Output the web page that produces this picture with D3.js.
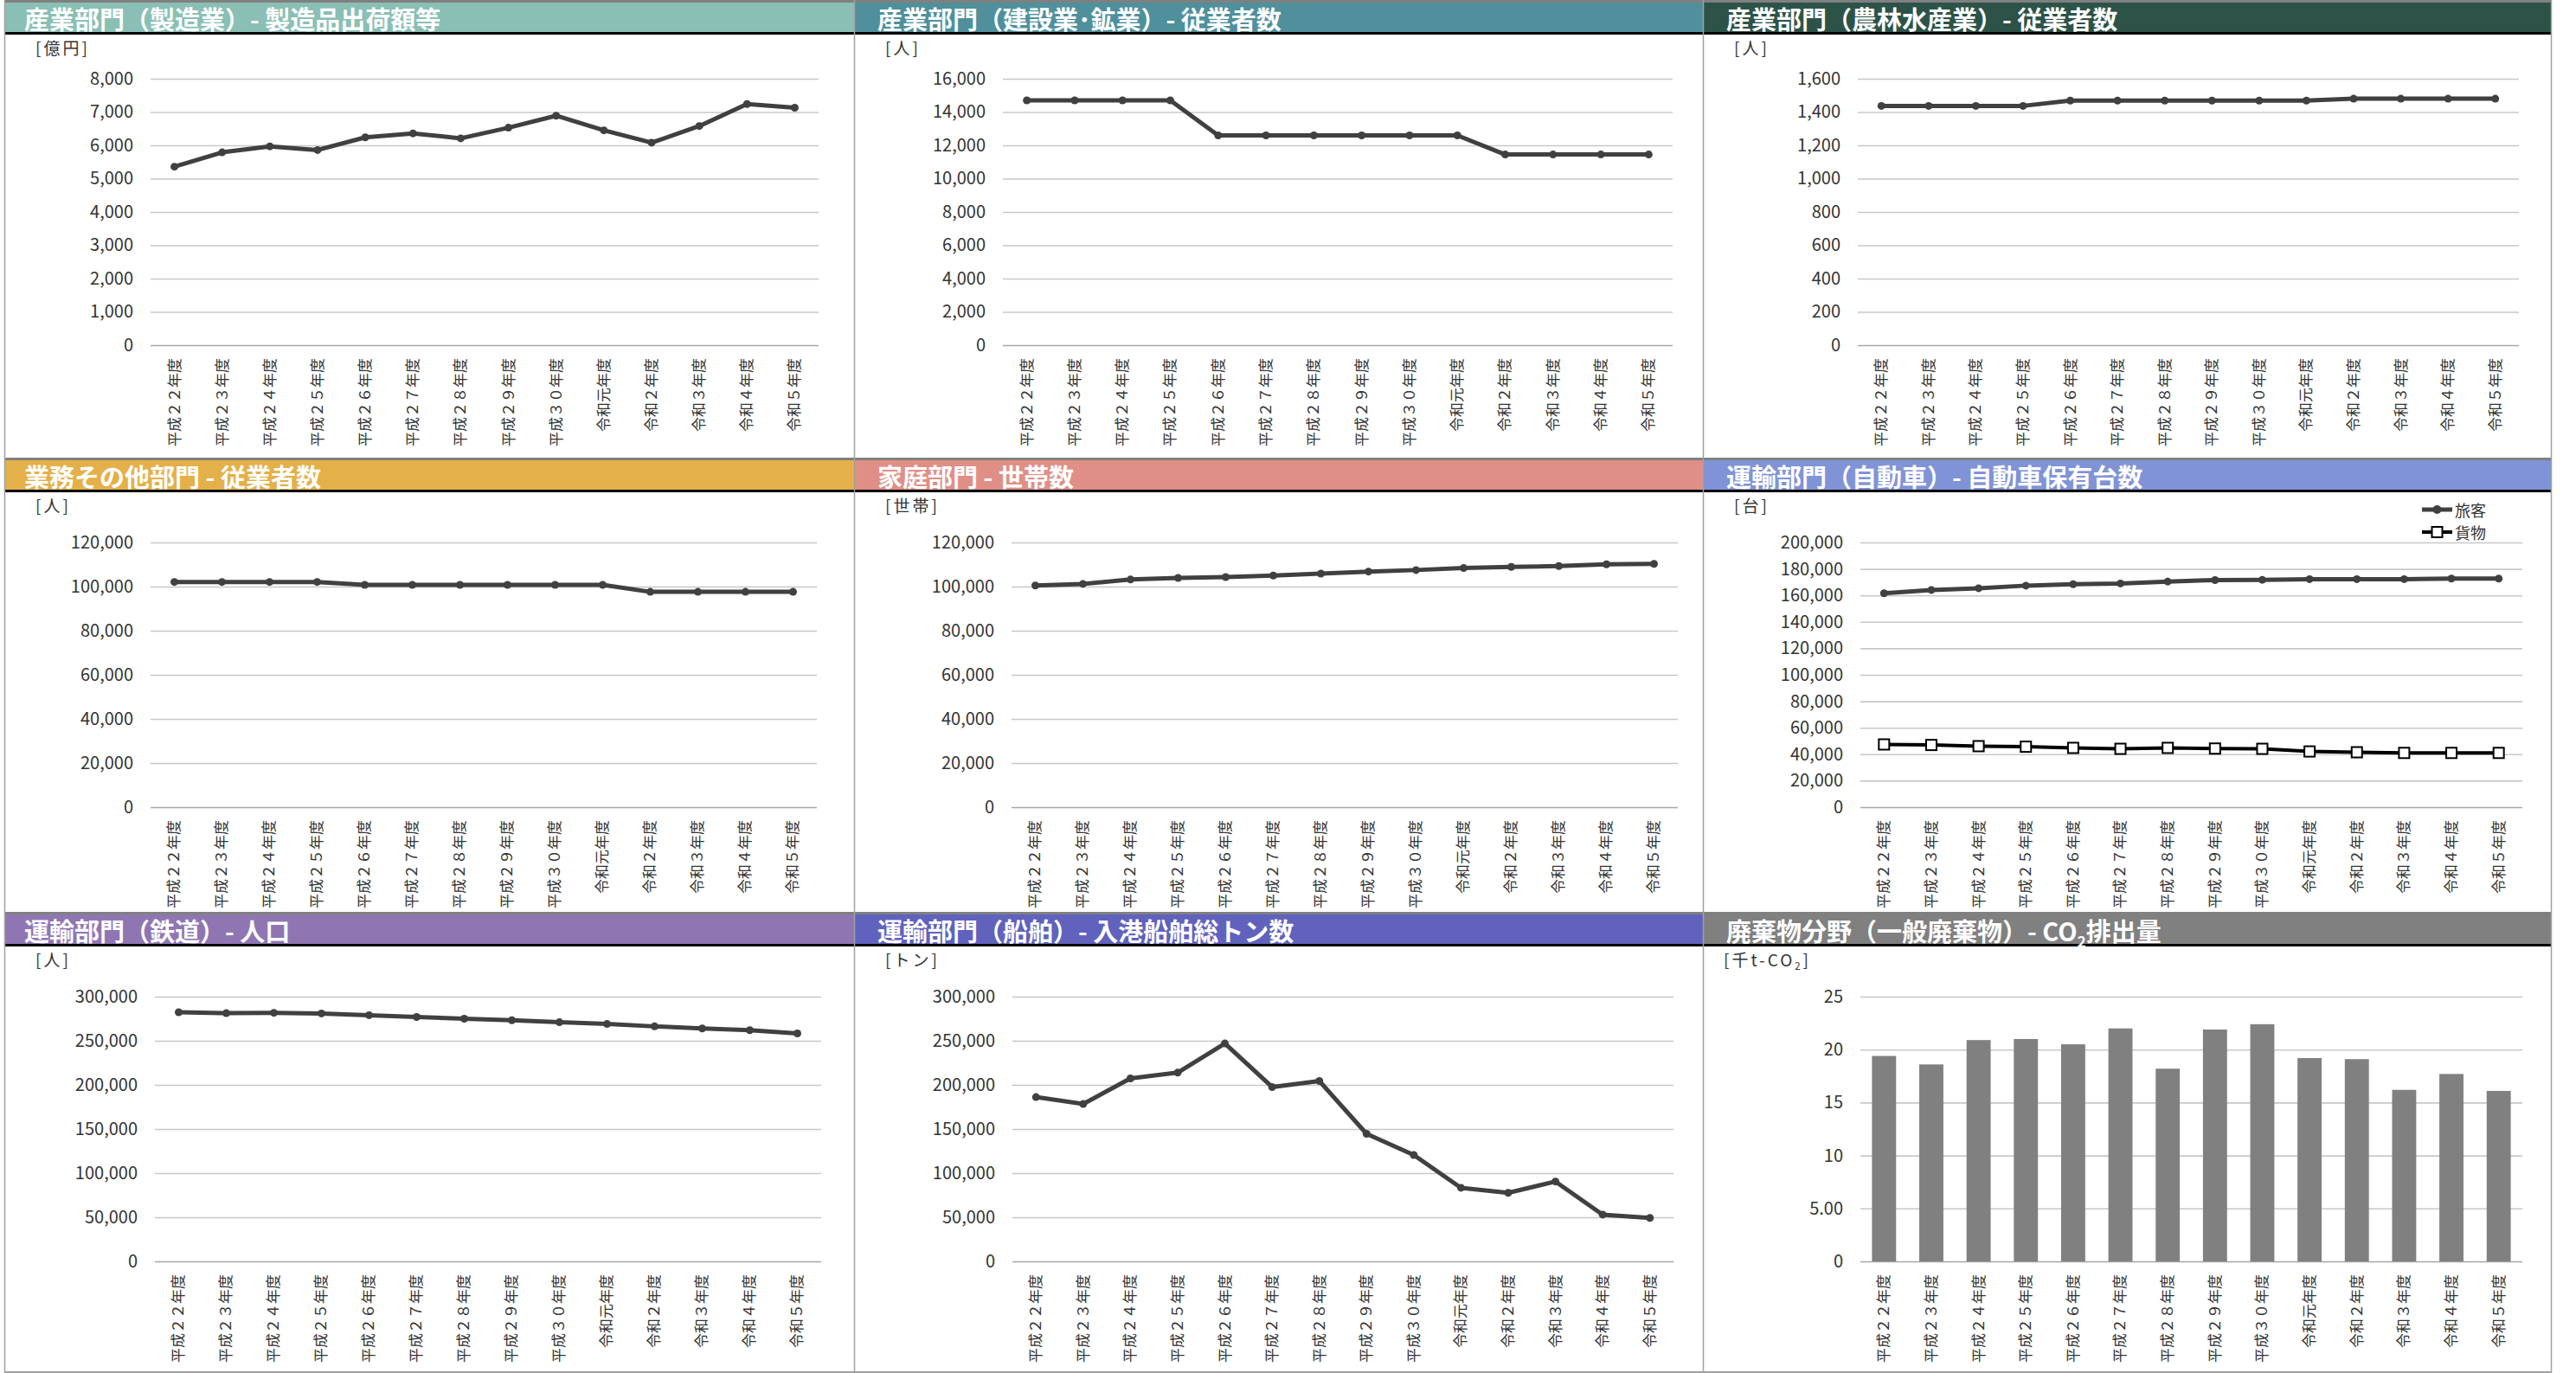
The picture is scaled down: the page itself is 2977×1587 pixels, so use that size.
<!DOCTYPE html>
<html>
<head>
<meta charset="utf-8">
<script src="https://cdn.jsdelivr.net/npm/d3@7"></script>
<style>
  body { margin: 0; background: #fff; }
  text { font-family: "Noto Sans CJK JP", "Noto Sans", sans-serif; }
</style>
</head>
<body>
<div id="chart"></div>
<script>
// ---- data ----
const years = ["平成２２年度", "平成２３年度", "平成２４年度", "平成２５年度", "平成２６年度", "平成２７年度", "平成２８年度",
  "平成２９年度", "平成３０年度", "令和元年度", "令和２年度", "令和３年度", "令和４年度", "令和５年度"];

const shipments = [5360, 5790, 5970, 5860, 6240, 6360, 6210, 6530, 6890, 6450, 6080, 6580, 7240, 7130];
const constructionWorkers = [14700, 14700, 14700, 14700, 12600, 12600, 12600, 12600, 12600, 12600, 11450, 11450, 11450, 11450];
const farmWorkers = [1437, 1437, 1437, 1437, 1469, 1469, 1469, 1469, 1469, 1469, 1480, 1480, 1480, 1480];
const officeWorkers = [102100, 102100, 102100, 102100, 100800, 100800, 100800, 100800, 100800, 100800, 97600, 97600, 97600, 97600];
const households = [100500, 101200, 103200, 103900, 104300, 105000, 105900, 106800, 107500, 108400, 108900, 109300, 110100, 110300];
const passengerCars = [161600, 164100, 165400, 167400, 168500, 169000, 170500, 171600, 171800, 172300, 172300, 172300, 172700, 172700];
const freightCars = [47400, 47000, 46100, 45700, 44800, 44100, 44800, 44300, 44100, 42100, 41500, 41000, 41000, 41000];
const railPopulation = [282300, 281300, 281700, 281000, 279000, 277000, 275000, 273300, 271000, 269000, 266300, 264000, 262000, 258300];
const shipTonnage = [186200, 178400, 207400, 213900, 247000, 197600, 204400, 144600, 120600, 83400, 77700, 90500, 53000, 49300];
const wasteCO2 = [19.4, 18.6, 20.9, 21.0, 20.5, 22.0, 18.2, 21.9, 22.4, 19.2, 19.1, 16.2, 17.7, 16.1];

const wasteTicks = [0, 5, 10, 15, 20, 25];
const wasteTickLabels = ["0", "5.00", "10", "15", "20", "25"];

// ---- panels ----
const comma = d3.format(",");
const panels = [
  { title: "産業部門（製造業）- 製造品出荷額等", color: "#8abfb5", unit: "[億円]",
    series: [{ name: "製造品出荷額等", values: shipments }], yMax: 8000, yStep: 1000, left: 168, right: 940 },
  { title: "産業部門（建設業･鉱業）- 従業者数", color: "#4f909c", unit: "[人]",
    series: [{ name: "従業者数", values: constructionWorkers }], yMax: 16000, yStep: 2000, left: 171, right: 945 },
  { title: "産業部門（農林水産業）- 従業者数", color: "#2d5349", unit: "[人]",
    series: [{ name: "従業者数", values: farmWorkers }], yMax: 1600, yStep: 200, left: 178, right: 942 },
  { title: "業務その他部門 - 従業者数", color: "#e4b049", unit: "[人]",
    series: [{ name: "従業者数", values: officeWorkers }], yMax: 120000, yStep: 20000, left: 168, right: 938 },
  { title: "家庭部門 - 世帯数", color: "#e08f87", unit: "[世帯]",
    series: [{ name: "世帯数", values: households }], yMax: 120000, yStep: 20000, left: 181, right: 951 },
  { title: "運輸部門（自動車）- 自動車保有台数", color: "#8093d7", unit: "[台]",
    series: [{ name: "旅客", values: passengerCars }, { name: "貨物", values: freightCars, hollow: true }],
    yMax: 200000, yStep: 20000, left: 181, right: 946, legend: true },
  { title: "運輸部門（鉄道）- 人口", color: "#8f76b3", unit: "[人]",
    series: [{ name: "人口", values: railPopulation }], yMax: 300000, yStep: 50000, left: 173, right: 943 },
  { title: "運輸部門（船舶）- 入港船舶総トン数", color: "#6062bd", unit: "[トン]",
    series: [{ name: "入港船舶総トン数", values: shipTonnage }], yMax: 300000, yStep: 50000, left: 182, right: 946 },
  { title: "廃棄物分野（一般廃棄物）- CO2排出量", color: "#808080", unit: "[千t-CO2]",
    bars: wasteCO2, yMax: 25, yStep: 5, left: 181, right: 946 }
];

const W = 2977, H = 1587;
const colX = [6, 988, 1969];
const colW = [981, 980, 979];
const rowY = [3, 532, 1057];
const headerH = 34;
const plotTop = [88, 95, 95];
const plotBottom = [396, 401, 401];

const svg = d3.select("#chart").append("svg")
  .attr("width", W)
  .attr("height", H)
  .attr("viewBox", `0 0 ${W} ${H}`);

svg.append("rect").attr("width", W).attr("height", H).attr("fill", "#fff");

// text with CO2 subscript
function addRichText(sel, str) {
  const parts = str.split("CO2");
  parts.forEach((p, i) => {
    sel.append("tspan").text(p);
    if (i < parts.length - 1) {
      sel.append("tspan").text("CO");
      sel.append("tspan").attr("baseline-shift", "sub").attr("font-size", "0.6em").text("2");
    }
  });
}

panels.forEach((p, i) => {
  const r = Math.floor(i / 3), c = i % 3;
  const g = svg.append("g").attr("transform", `translate(${colX[c]}, ${rowY[r]})`);

  // header
  g.append("rect").attr("width", colW[c]).attr("height", headerH).attr("fill", p.color);
  g.append("rect").attr("y", headerH).attr("width", colW[c]).attr("height", 3).attr("fill", "#000");
  const title = g.append("text")
    .attr("x", c === 0 ? 22 : 26)
    .attr("y", headerH / 2 + 1)
    .attr("dominant-baseline", "central")
    .attr("fill", "#fff")
    .attr("font-size", 29)
    .attr("font-weight", "bold");
  addRichText(title, p.title);

  // unit label
  const unit = g.append("text")
    .attr("x", c === 2 && p.bars ? 23 : 35)
    .attr("y", 51)
    .attr("dominant-baseline", "central")
    .attr("fill", "#333")
    .attr("font-size", 19)
    .attr("letter-spacing", 3);
  addRichText(unit, p.unit);

  const x = d3.scaleBand().domain(years).range([p.left, p.right]);
  const y = d3.scaleLinear().domain([0, p.yMax]).range([plotBottom[r], plotTop[r]]);
  const cx = d => x(d) + x.bandwidth() / 2;

  const tickVals = p.bars ? wasteTicks : d3.range(0, p.yMax + p.yStep / 2, p.yStep);
  const yAxis = d3.axisLeft(y)
    .tickValues(tickVals)
    .tickFormat(p.bars ? (d, k) => wasteTickLabels[k] : comma)
    .tickSize(-(p.right - p.left))
    .tickPadding(20);

  const ya = g.append("g").attr("transform", `translate(${p.left}, 0)`).call(yAxis);
  ya.select(".domain").remove();
  ya.selectAll(".tick line")
    .attr("stroke", d => d === 0 ? "#a6a6a6" : "#c8c8c8")
    .attr("stroke-width", 1.6);
  ya.selectAll(".tick text")
    .attr("fill", "#333")
    .attr("font-size", 20)
    .style("font-family", "'Noto Sans CJK JP', sans-serif");

  // x labels
  const xa = g.append("g").attr("transform", `translate(0, ${plotBottom[r]})`)
    .call(d3.axisBottom(x).tickSize(0));
  xa.select(".domain").remove();
  xa.selectAll(".tick text")
    .attr("transform", "rotate(-90)")
    .attr("text-anchor", "end")
    .attr("x", -15)
    .attr("y", 0)
    .attr("dy", "0.35em")
    .attr("fill", "#333")
    .attr("font-size", 17)
    .style("font-family", "'Noto Sans CJK JP', sans-serif");

  if (p.bars) {
    const bw = x.bandwidth() * 0.51;
    g.append("g").selectAll("rect").data(p.bars).join("rect")
      .attr("x", (d, k) => cx(years[k]) - bw / 2)
      .attr("y", d => y(d))
      .attr("width", bw)
      .attr("height", d => y(0) - y(d))
      .attr("fill", "#808080");
    return;
  }

  p.series.forEach(s => {
    const line = d3.line()
      .x((d, k) => cx(years[k]))
      .y(d => y(d));
    g.append("path")
      .datum(s.values)
      .attr("fill", "none")
      .attr("stroke", s.hollow ? "#000" : "#404040")
      .attr("stroke-width", s.hollow ? 4 : 5)
      .attr("stroke-linejoin", "round")
      .attr("d", line);
    if (s.hollow) {
      g.append("g").selectAll("rect").data(s.values).join("rect")
        .attr("x", (d, k) => cx(years[k]) - 6)
        .attr("y", d => y(d) - 6)
        .attr("width", 12)
        .attr("height", 12)
        .attr("fill", "#fff")
        .attr("stroke", "#000")
        .attr("stroke-width", 2);
    } else {
      g.append("g").selectAll("circle").data(s.values).join("circle")
        .attr("cx", (d, k) => cx(years[k]))
        .attr("cy", d => y(d))
        .attr("r", 4.5)
        .attr("fill", "#404040");
    }
  });

  if (p.legend) {
    const lg = g.append("g").attr("transform", "translate(830, 57)");
    p.series.forEach((s, k) => {
      const row = lg.append("g").attr("transform", `translate(0, ${k * 26})`);
      row.append("line").attr("x1", 0).attr("x2", 35)
        .attr("stroke", s.hollow ? "#000" : "#404040").attr("stroke-width", s.hollow ? 4 : 5);
      if (s.hollow) {
        row.append("rect").attr("x", 11.5).attr("y", -6).attr("width", 12).attr("height", 12)
          .attr("fill", "#fff").attr("stroke", "#000").attr("stroke-width", 2);
      } else {
        row.append("circle").attr("cx", 17.5).attr("r", 5).attr("fill", "#404040");
      }
      row.append("text").attr("x", 38).attr("dominant-baseline", "central")
        .attr("font-size", 18).attr("fill", "#333").text(s.name);
    });
  }
});

// frame lines
const frame = svg.append("g").attr("fill", "none");
[1.5, 530.5, 1055.5].forEach(yy => {
  frame.append("line").attr("x1", 5).attr("x2", 2949).attr("y1", yy).attr("y2", yy)
    .attr("stroke", "#808080").attr("stroke-width", 3);
});
frame.append("line").attr("x1", 5).attr("x2", 2949).attr("y1", 1586).attr("y2", 1586)
  .attr("stroke", "#a0a0a0").attr("stroke-width", 2);
[5.5, 987.5, 1968.5, 2948.5].forEach(xx => {
  frame.append("line").attr("x1", xx).attr("x2", xx).attr("y1", 0).attr("y2", H)
    .attr("stroke", "#a0a0a0").attr("stroke-width", 1.5);
});
</script>
</body>
</html>
